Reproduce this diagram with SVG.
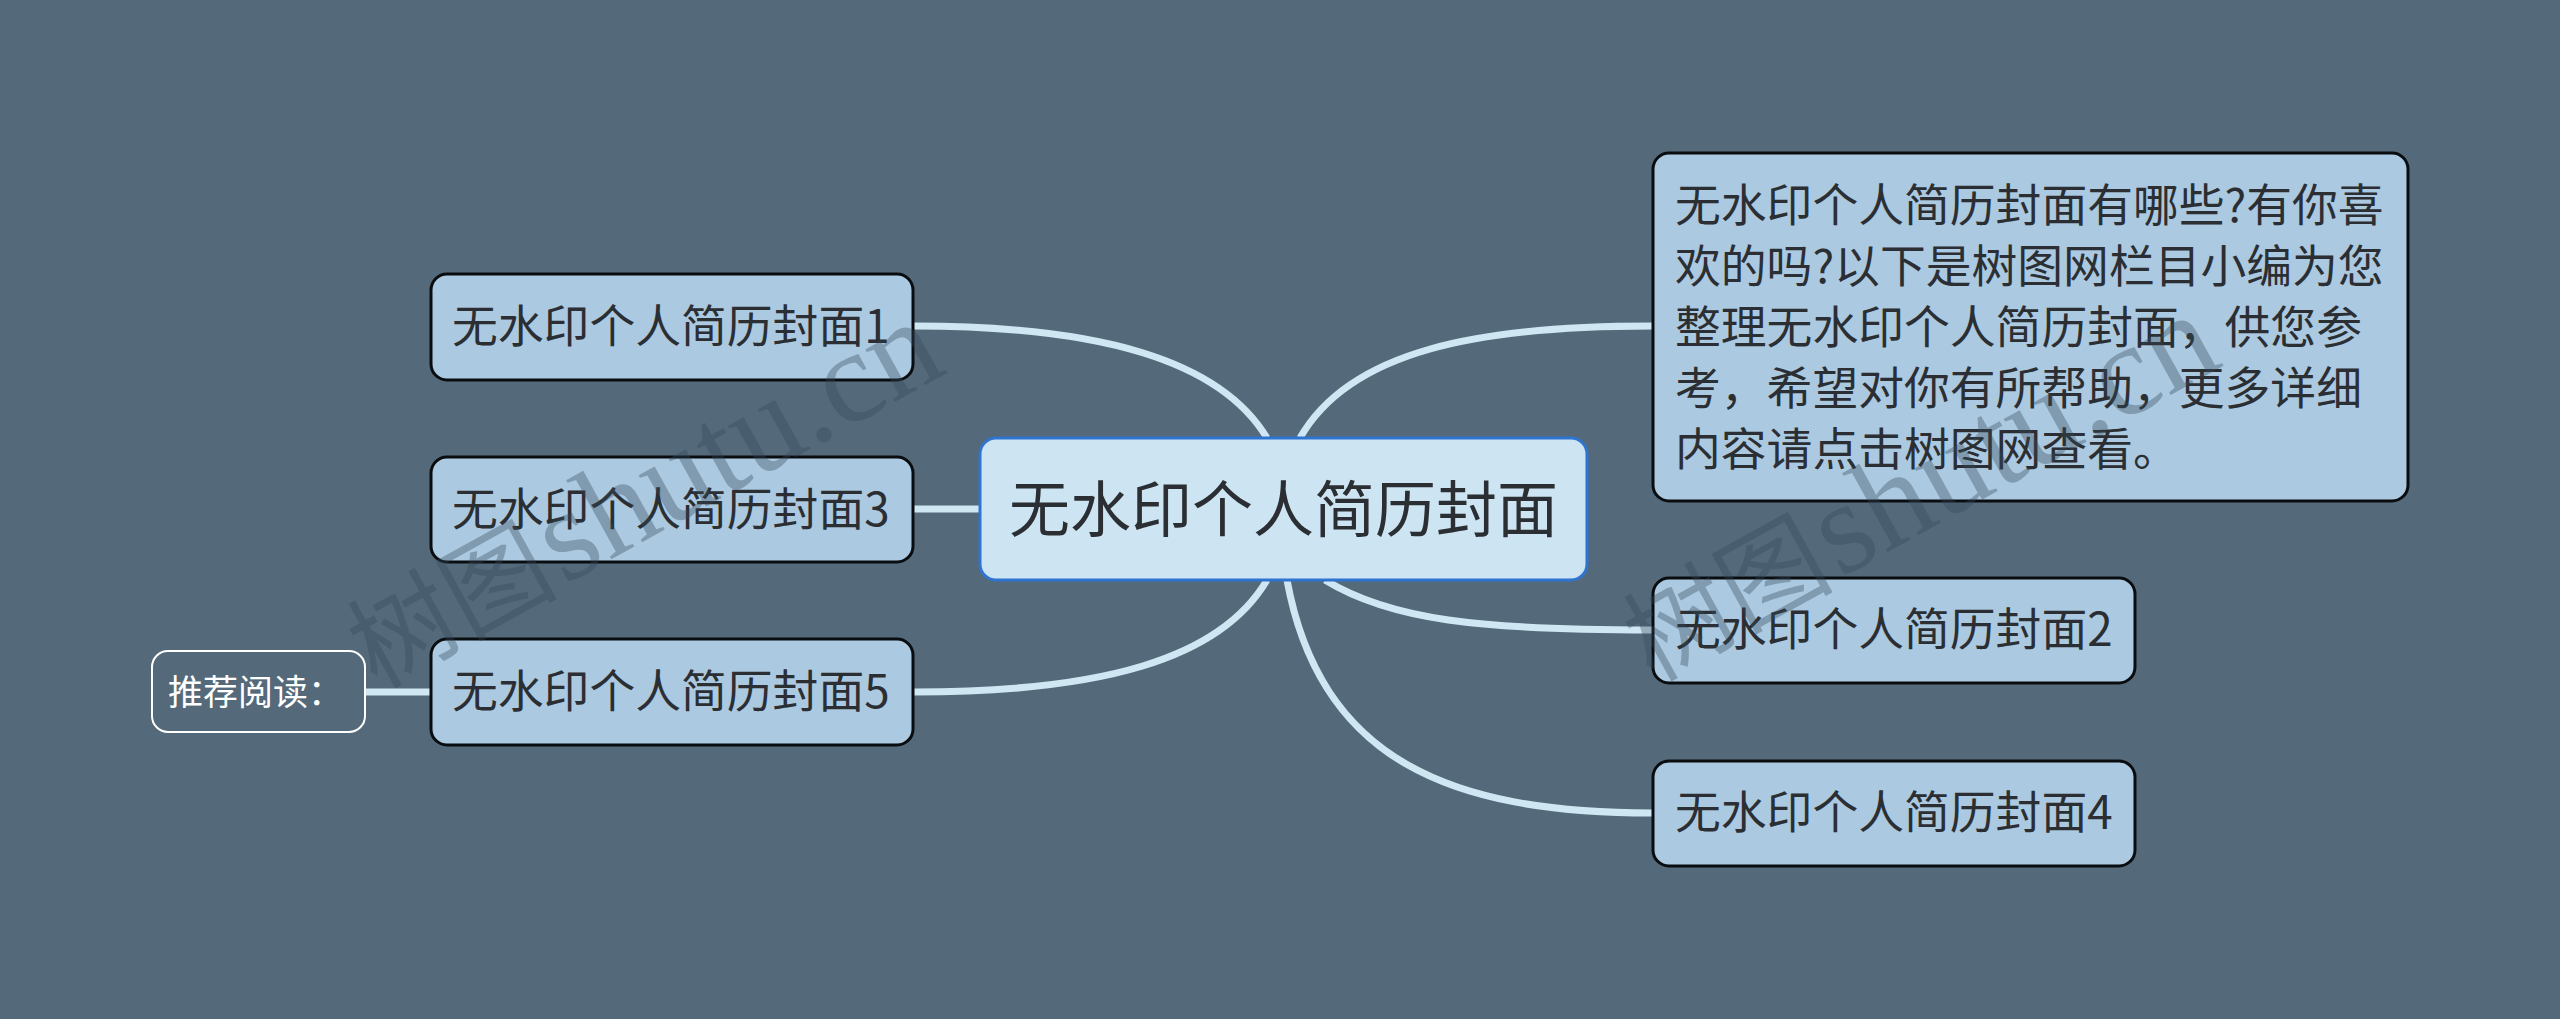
<svg xmlns="http://www.w3.org/2000/svg" width="2560" height="1019" viewBox="0 0 2560 1019">
<style>
text{font-family:"Noto Sans CJK SC","Noto Sans",sans-serif;fill:#2b2f33}
.n{fill:#abc9e0;stroke:#0a0d10;stroke-width:3}
.t{font-size:45.8px}
.c{fill:none;stroke:#cfe6f3;stroke-width:7}
.w{font-family:"Liberation Serif","Noto Sans CJK SC",serif;font-size:131px;fill:#34495a;fill-opacity:.36}
.w .h{font-size:105px}
</style>
<rect width="2560" height="1019" fill="#546a7a"/>
<g id="connectors">
<path class="c" d="M914 326C1100 326 1220 360 1267 438"/>
<path class="c" d="M914 509H980"/>
<path class="c" d="M914 692C1100 692 1220 660 1267 580"/>
<path class="c" d="M1652 326C1480 326 1350 350 1300 438"/>
<path class="c" d="M1652 630C1480 630 1390 620 1325 580"/>
<path class="c" d="M1652 813C1450 813 1320 760 1287 580"/>
<path class="c" d="M366 692H430"/>
</g>
<g id="root"><rect x="980" y="438" width="607" height="142" rx="16" fill="#cde5f3" stroke="#2f74d0" stroke-width="3"/><text x="1009" y="532" font-size="61">无水印个人简历封面</text></g>
<g id="n1"><rect class="n" x="431" y="274" width="482" height="106" rx="16"/><text class="t" x="452" y="343">无水印个人简历封面1</text></g>
<g id="n3"><rect class="n" x="431" y="457" width="482" height="105" rx="16"/><text class="t" x="452" y="526">无水印个人简历封面3</text></g>
<g id="n5"><rect class="n" x="431" y="639" width="482" height="106" rx="16"/><text class="t" x="452" y="708">无水印个人简历封面5</text></g>
<g id="intro"><rect class="n" x="1653" y="153" width="755" height="348" rx="16"/>
<text class="t" x="1675" y="222">无水印个人简历封面有哪些?有你喜</text>
<text class="t" x="1675" y="283">欢的吗?以下是树图网栏目小编为您</text>
<text class="t" x="1675" y="344">整理无水印个人简历封面，供您参</text>
<text class="t" x="1675" y="405">考，希望对你有所帮助，更多详细</text>
<text class="t" x="1675" y="466">内容请点击树图网查看。</text></g>
<g id="n2"><rect class="n" x="1653" y="578" width="482" height="105" rx="16"/><text class="t" x="1675" y="646">无水印个人简历封面2</text></g>
<g id="n4"><rect class="n" x="1653" y="761" width="482" height="105" rx="16"/><text class="t" x="1675" y="829">无水印个人简历封面4</text></g>
<g id="rec"><rect x="152" y="651" width="213" height="81" rx="16" fill="#546a7a" stroke="#fff" stroke-width="2"/><text x="168" y="705" font-size="35" style="fill:#fff">推荐阅读：</text></g>
<g id="watermarks">
<text class="w" transform="translate(352 703) rotate(-29)"><tspan class="h" dx="28">树图</tspan><tspan dx="-28"> shutu.cn</tspan></text>
<text class="w" transform="translate(1628 696) rotate(-29)"><tspan class="h" dx="28">树图</tspan><tspan dx="-28"> shutu.cn</tspan></text>
</g>
</svg>
